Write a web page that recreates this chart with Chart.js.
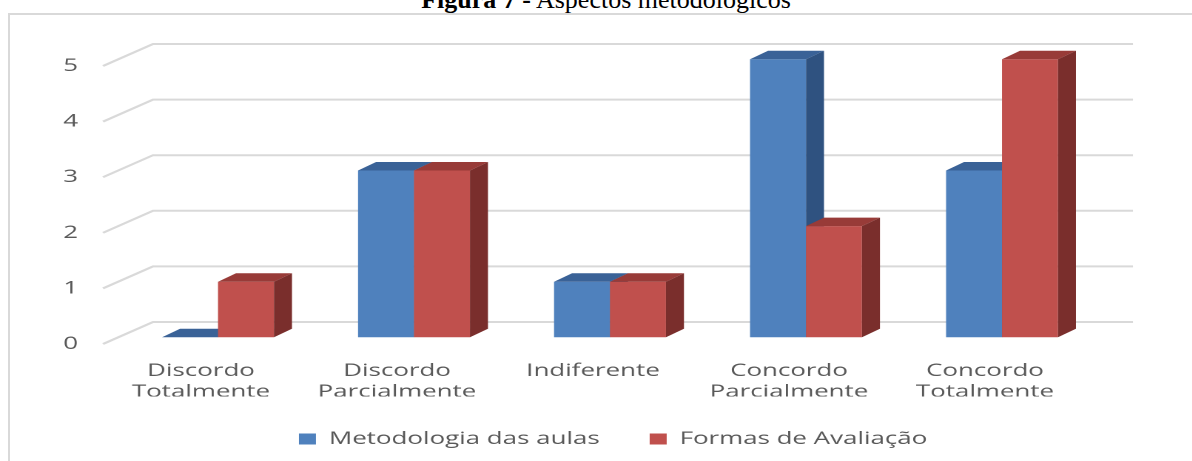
<!DOCTYPE html>
<html lang="pt-br">
<head>
  <meta charset="UTF-8" />
  <title>Figura 7 - Aspectos metodológicos</title>
  <script src="https://cdn.jsdelivr.net/npm/chart.js"></script>
  <style>
    body { margin: 0; background: #fff; width: 1192px; height: 461px; overflow: hidden; position: relative; }
    .titulo {
      position: absolute; left: 0; top: -13px; width: 1212px; text-align: center;
      font-family: "Liberation Serif", serif; font-size: 26px; line-height: 26px; color: #000; white-space: nowrap;
    }
    .moldura { position: absolute; left: 8px; top: 13px; width: 1400px; height: 600px; border: 2px solid #d9d9d9; }
    .grafico { position: absolute; left: 0; top: 0; height: 461px; transform-origin: 0 0; }
  </style>
</head>
<body>
  <div class="titulo"><b>Figura 7 -</b> Aspectos metodológicos</div>
  <div class="moldura"></div>
  <div class="grafico" id="grafico"><canvas id="myChart"></canvas></div>

  <script>
    // dados
    const categorias = [['Discordo', 'Totalmente'], ['Discordo', 'Parcialmente'], 'Indiferente', ['Concordo', 'Parcialmente'], ['Concordo', 'Totalmente']];
    const metodologiaAulas = [0, 3, 1, 5, 3];
    const formasAvaliacao = [1, 3, 1, 2, 5];
    const ticksY = [0, 1, 2, 3, 4, 5];

    // a figura original está esticada na horizontal
    const ESTICAR = 1.48;
    const largura = 1192 / ESTICAR;
    const caixa = document.getElementById('grafico');
    caixa.style.width = largura + 'px';
    caixa.style.transform = `scaleX(${ESTICAR})`;
    const px = v => v / ESTICAR;   // px da figura -> px do canvas

    const fonte = { family: 'Open Sans', size: 17.5 };
    const cinza = '#595959';
    const espacoLegenda = px(50);

    // grade em "3D": linha diagonal + parede de fundo
    const grade3d = {
      id: 'grade3d',
      beforeDatasetsDraw(chart) {
        const { ctx, chartArea, scales: { y } } = chart;
        const dx = px(50), dy = -22;
        ctx.save();
        ctx.strokeStyle = '#d9d9d9';
        ctx.lineWidth = 2;
        ticksY.forEach(v => {
          const yy = y.getPixelForValue(v);
          ctx.beginPath();
          ctx.moveTo(chartArea.left, yy);
          ctx.lineTo(chartArea.left + dx, yy + dy);
          ctx.lineTo(chartArea.right + dx, yy + dy);
          ctx.stroke();
        });
        ctx.restore();
      }
    };

    // barras com topo e lateral, desenhadas na ordem das series
    const barras3d = {
      id: 'barras3d',
      beforeDatasetDraw() {
        return false;
      },
      afterDatasetsDraw(chart) {
        const ctx = chart.ctx;
        const pdx = px(18), pdy = -8.5;
        ctx.save();
        ctx.translate(px(17), -6.7);
        chart.data.datasets.forEach((ds, i) => {
          const meta = chart.getDatasetMeta(i);
          meta.data.forEach(bar => {
            bar.draw(ctx);
            const { x, y, base, width } = bar.getProps(['x', 'y', 'base', 'width'], true);
            const l = x - width / 2, r = x + width / 2;
            ctx.fillStyle = ds.corTopo;
            ctx.beginPath();
            ctx.moveTo(l, y); ctx.lineTo(r, y); ctx.lineTo(r + pdx, y + pdy); ctx.lineTo(l + pdx, y + pdy);
            ctx.closePath(); ctx.fill();
            ctx.fillStyle = ds.corLado;
            ctx.beginPath();
            ctx.moveTo(r, y); ctx.lineTo(r + pdx, y + pdy); ctx.lineTo(r + pdx, base + pdy); ctx.lineTo(r, base);
            ctx.closePath(); ctx.fill();
          });
        });
        ctx.restore();
      }
    };

    const config = {
      type: 'bar',
      data: {
        labels: categorias,
        datasets: [{
          label: 'Metodologia das aulas',
          data: metodologiaAulas,
          backgroundColor: '#4f81bd',
          corTopo: '#3a6297',
          corLado: '#2f5280'
        },
        {
          label: 'Formas de Avaliação',
          data: formasAvaliacao,
          backgroundColor: '#c0504d',
          corTopo: '#983b38',
          corLado: '#7a2e2c'
        }]
      },
      options: {
        responsive: true,
        maintainAspectRatio: false,
        animation: false,
        devicePixelRatio: 2,
        layout: { padding: { left: px(34.2), right: 0, top: 66, bottom: 3.25 } },
        datasets: { bar: { categoryPercentage: 0.571, barPercentage: 1, borderWidth: 0 } },
        plugins: {
          legend: {
            position: 'bottom',
            labels: { font: fonte, color: cinza, boxWidth: px(17), boxHeight: 11, padding: espacoLegenda }
          },
          tooltip: { enabled: false }
        },
        scales: {
          x: {
            grid: { display: false, drawTicks: false },
            border: { display: false },
            ticks: { font: fonte, color: cinza, padding: 16.5, maxRotation: 0, autoSkip: false },
            afterFit(s) { s.height = 86.25 - espacoLegenda; }
          },
          y: {
            min: 0, max: 5,
            ticks: { stepSize: 1, font: fonte, color: cinza, padding: px(25) },
            grid: { display: false, drawTicks: false },
            border: { display: false },
            afterFit(s) { s.width = px(103 - 34.2); }
          },
          y2: {
            position: 'right',
            ticks: { display: false },
            grid: { display: false, drawTicks: false },
            border: { display: false },
            afterFit(s) { s.width = largura - px(1083); }
          }
        }
      },
      plugins: [grade3d, barras3d]
    };

    new Chart(document.getElementById('myChart'), config);
  </script>
</body>
</html>
